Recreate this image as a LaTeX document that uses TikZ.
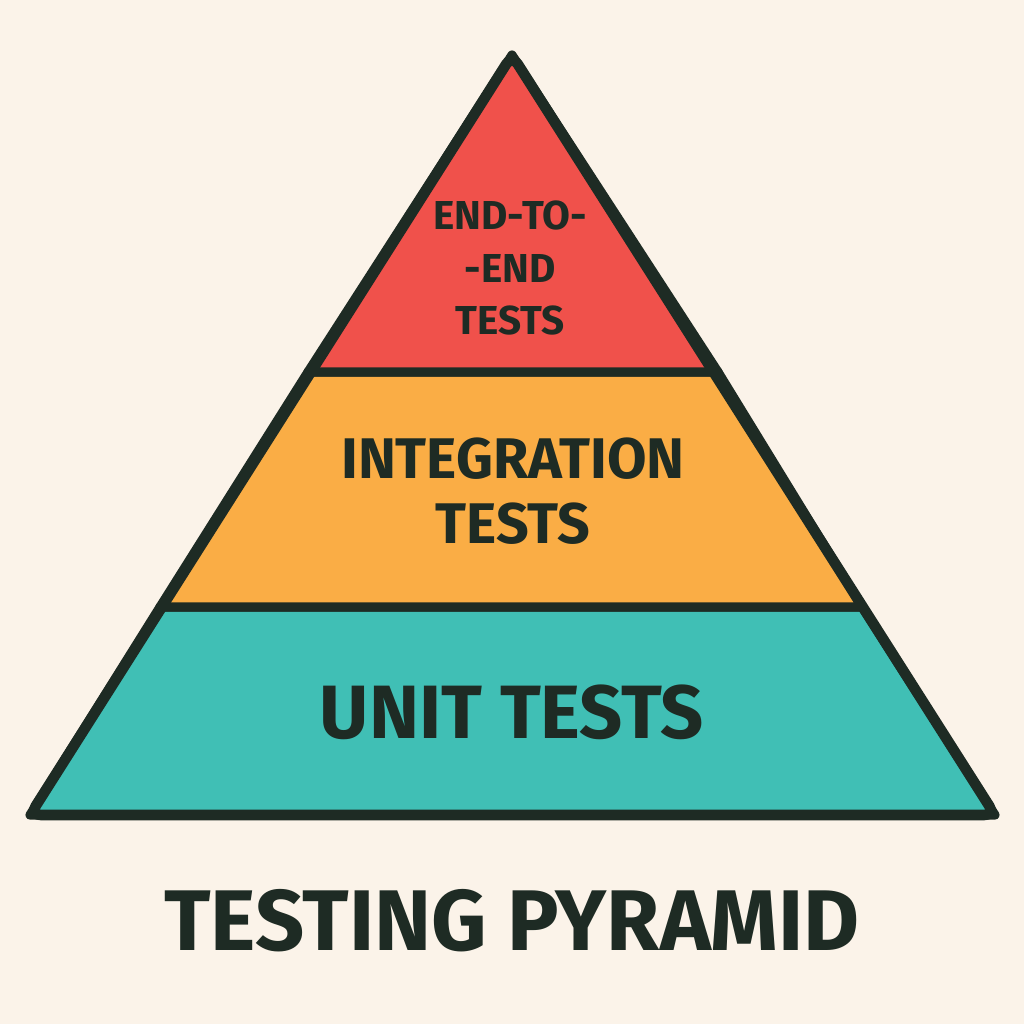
\documentclass[tikz,border=0pt]{standalone}
\usepackage{fontspec}
\setmainfont{Fira Sans}
\usetikzlibrary{positioning}
\definecolor{bgcream}{HTML}{FBF3E9}
\definecolor{topred}{HTML}{F0514B}
\definecolor{midorange}{HTML}{FAAD45}
\definecolor{baseteal}{HTML}{40BFB5}
\definecolor{inkdark}{HTML}{1E2B24}
\tikzset{
    band/.style = {draw = inkdark, line width = 2.6pt, line join = round},
    label/.style = {text = inkdark, font = \bfseries, align = center}
}

\begin{document}
\begin{tikzpicture}

    % Background
    \fill [bgcream] (0,0) rectangle (10.24,10.24);
    \useasboundingbox (0,0) rectangle (10.24,10.24);

    % Coordinates
    \coordinate (apex) at (5.12, 9.69);
    \coordinate (L1) at (3.08, 6.52);
    \coordinate (R1) at (7.18, 6.52);
    \coordinate (L2) at (1.60, 4.17);
    \coordinate (R2) at (8.62, 4.17);
    \coordinate (L3) at (0.30, 2.09);
    \coordinate (R3) at (9.95, 2.09);

    % Layers
    \draw [band, fill = baseteal] (L2) -- (R2) -- (R3) -- (L3) -- cycle;
    \draw [band, fill = midorange] (L1) -- (R1) -- (R2) -- (L2) -- cycle;
    \draw [band, fill = topred] (apex) -- (R1) -- (L1) -- cycle;
    \draw [band, line width = 3pt, rounded corners = 3pt] (apex) -- (L3) -- (R3) -- cycle;

    % Texts
    \node [label, font = \bfseries\fontsize{11.5}{15}\selectfont] (e2e) at (5.10, 7.56) {END-TO-\\-END\\TESTS};
    \node [label, font = \bfseries\fontsize{16.3}{18.5}\selectfont] (integ) at (5.13, 5.33) {INTEGRATION\\TESTS};
    \node [label, font = \bfseries\fontsize{21.5}{26}\selectfont] (unit) at (5.12, 3.12) {UNIT TESTS};
    \node [label, font = \bfseries\fontsize{24.5}{30}\selectfont] (title) at (5.12, 1.03) {TESTING PYRAMID};

\end{tikzpicture}
\end{document}
